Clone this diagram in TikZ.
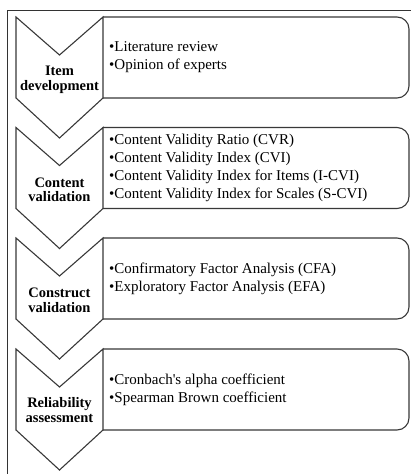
\documentclass[tikz,border=0pt]{standalone}
\usepackage{fontspec}
\setmainfont{Liberation Serif}
\begin{document}
\begin{tikzpicture}[x=1pt,y=-1pt,
  outline/.style={draw=black!78,line width=1.1pt,line join=miter},
  label/.style={font=\fontsize{14.5}{14.5}\selectfont\bfseries,align=center,inner sep=0pt},
  items/.style={font=\fontsize{15}{18}\selectfont,align=left,anchor=west,inner sep=0pt}]
\useasboundingbox (0,0) rectangle (411,474);
\clip (0,0) rectangle (411,474);
\draw[black!80,line width=0.8pt] (7.5,490) -- (7.5,10) -- (430,10);
\foreach \T in {17,127.5,238,349}{
  \draw[outline] (16,\T) -- (59.5,\T+38) -- (103,\T) -- (103,\T+81) -- (59.5,\T+121) -- (16,\T+81) -- cycle;
  \draw[outline] (103,\T) -- (397,\T) arc[start angle=-90,end angle=0,radius=12] -- (409,\T+69) arc[start angle=0,end angle=90,radius=12] -- (103,\T+81);
}
\node[label] (l1) at (59.5,80) {Item\\development};
\node[items] (b1) at (109,57.5) {•Literature review\\•Opinion of experts};
\node[label] (l2) at (59.5,190) {Content\\validation};
\node[items] (b2) at (109,168) {•Content Validity Ratio (CVR)\\•Content Validity Index (CVI)\\•Content Validity Index for Items (I-CVI)\\•Content Validity Index for Scales (S-CVI)};
\node[label] (l3) at (59.5,300.5) {Construct\\validation};
\node[items] (b3) at (109,279) {•Confirmatory Factor Analysis (CFA)\\•Exploratory Factor Analysis (EFA)};
\node[label] (l4) at (59.5,410) {Reliability\\assessment};
\node[items] (b4) at (109,389.5) {•Cronbach\textquotesingle s alpha coefficient\\•Spearman Brown coefficient};
\end{tikzpicture}
\end{document}
